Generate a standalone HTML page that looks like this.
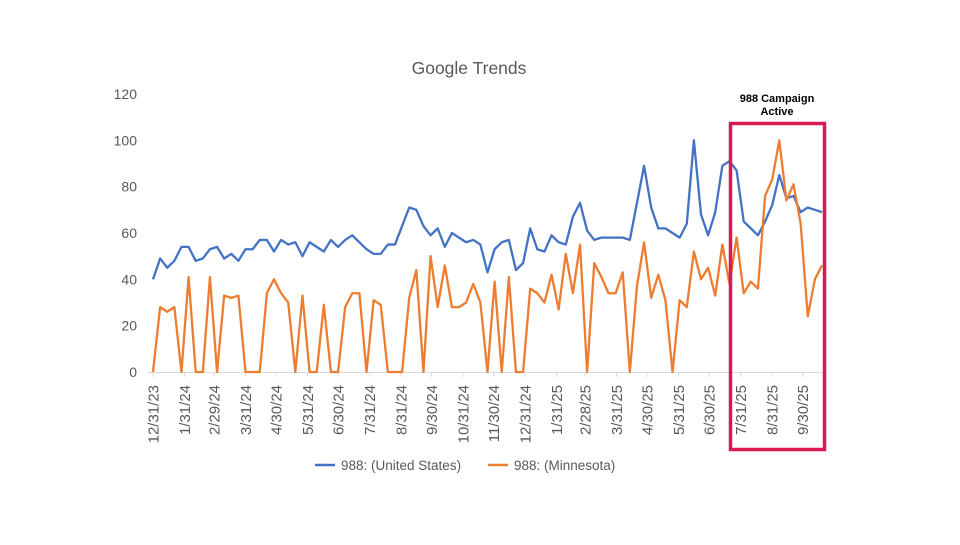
<!DOCTYPE html>
<html><head><meta charset="utf-8"><style>
html,body{margin:0;padding:0;background:#fff;}
svg text{font-family:"Liberation Sans",sans-serif;}
</style></head><body>
<svg id="chart" width="960" height="540" viewBox="0 0 960 540" xmlns="http://www.w3.org/2000/svg">
<rect width="960" height="540" fill="#fff"/>
<text x="469" y="74" text-anchor="middle" font-size="17.5" fill="#595959">Google Trends</text>
<g id="yaxis"></g>
<g id="xaxis"></g>
<g id="series"></g>
<rect x="730.5" y="123.5" width="94" height="326" fill="none" stroke="#D91A52" stroke-width="3.5"/>
<text x="777" y="102" text-anchor="middle" font-size="11" font-weight="bold" fill="#000"><tspan x="777">988 Campaign</tspan><tspan x="777" dy="13">Active</tspan></text>
<g>
<line x1="315" y1="465" x2="335" y2="465" stroke="#4472C4" stroke-width="2.5"/>
<text x="341" y="470" font-size="13.5" fill="#595959">988: (United States)</text>
<line x1="488" y1="465" x2="508" y2="465" stroke="#ED7D31" stroke-width="2.5"/>
<text x="514" y="470" font-size="13.5" fill="#595959">988: (Minnesota)</text>
</g>
</svg>
<script>
const usValues = [40,49,45,48,54,54,48,49,53,54,49,51,48,53,53,57,57,52,57,55,56,50,56,54,52,57,54,57,59,56,53,51,51,55,55,63,71,70,63,59,62,54,60,58,56,57,55,43,53,56,57,44,47,62,53,52,59,56,55,67,73,61,57,58,58,58,58,57,73,89,71,62,62,60,58,64,100,68,59,69,89,91,87,65,62,59,65,72,85,75,76,69,71,70,69];
const mnValues = [0,28,26,28,0,41,0,0,41,0,33,32,33,0,0,0,34,40,34,30,0,33,0,0,29,0,0,28,34,34,0,31,29,0,0,0,32,44,0,50,28,46,28,28,30,38,30,0,39,0,41,0,0,36,34,30,42,27,51,34,55,0,47,41,34,34,43,0,37,56,32,42,31,0,31,28,52,40,45,33,55,38,58,34,39,36,76,83,100,74,81,64,24,40,46];
const yTicks = [0,20,40,60,80,100,120];
const xTickLabels = ["12/31/23","1/31/24","2/29/24","3/31/24","4/30/24","5/31/24","6/30/24","7/31/24","8/31/24","9/30/24","10/31/24","11/30/24","12/31/24","1/31/25","2/28/25","3/31/25","4/30/25","5/31/25","6/30/25","7/31/25","8/31/25","9/30/25"];

const NS="http://www.w3.org/2000/svg";
const X0=153, X1=822, Y0=372, Y1=94, YMAX=120;
const n=Math.max(usValues.length,mnValues.length);
const step=(X1-X0)/(n-1);
function xIdx(i){return X0+i*step;}
function yVal(v){return Y0-(v/YMAX)*(Y0-Y1);}
function parseDate(s){const p=s.split("/");return Date.UTC(2000+ +p[2],+p[0]-1,+p[1]);}
const start=parseDate(xTickLabels[0]);
function xDate(s){return xIdx((parseDate(s)-start)/(7*86400000));}

const ya=document.getElementById("yaxis");
yTicks.forEach(t=>{
  const tx=document.createElementNS(NS,"text");
  tx.setAttribute("x",137);tx.setAttribute("y",yVal(t)+5);
  tx.setAttribute("text-anchor","end");tx.setAttribute("font-size","14");tx.setAttribute("fill","#595959");
  tx.textContent=t;
  
  
  ya.appendChild(tx);
});
const xa=document.getElementById("xaxis");
const ax=document.createElementNS(NS,"line");
ax.setAttribute("x1",X0-5);ax.setAttribute("x2",X1+3);ax.setAttribute("y1",Y0+0.5);ax.setAttribute("y2",Y0+0.5);
ax.setAttribute("stroke","#D9D9D9");ax.setAttribute("stroke-width","1");


xa.appendChild(ax);
xTickLabels.forEach(l=>{
  const x=xDate(l);
  const tk=document.createElementNS(NS,"line");
  tk.setAttribute("x1",x);tk.setAttribute("x2",x);tk.setAttribute("y1",Y0);tk.setAttribute("y2",Y0+5);
  tk.setAttribute("stroke","#D9D9D9");
  
  
  xa.appendChild(tk);
  const tx=document.createElementNS(NS,"text");
  tx.setAttribute("transform","translate("+(x+5.5)+","+(Y0+13)+") rotate(-90)");
  tx.setAttribute("text-anchor","end");tx.setAttribute("font-size","15");tx.setAttribute("fill","#595959");
  tx.textContent=l;
  
  
  xa.appendChild(tx);
});
const sg=document.getElementById("series");
function drawLine(vals,color,name){
  const p=document.createElementNS(NS,"polyline");
  p.setAttribute("points",vals.map((v,i)=>xIdx(i).toFixed(2)+","+yVal(v).toFixed(2)).join(" "));
  p.setAttribute("fill","none");p.setAttribute("stroke",color);p.setAttribute("stroke-width","2.3");
  p.setAttribute("stroke-linejoin","round");
  
  
  sg.appendChild(p);
}
drawLine(usValues,"#4472C4","us-series-line");
drawLine(mnValues,"#ED7D31","minnesota-series-line");
</script>
</body></html>
